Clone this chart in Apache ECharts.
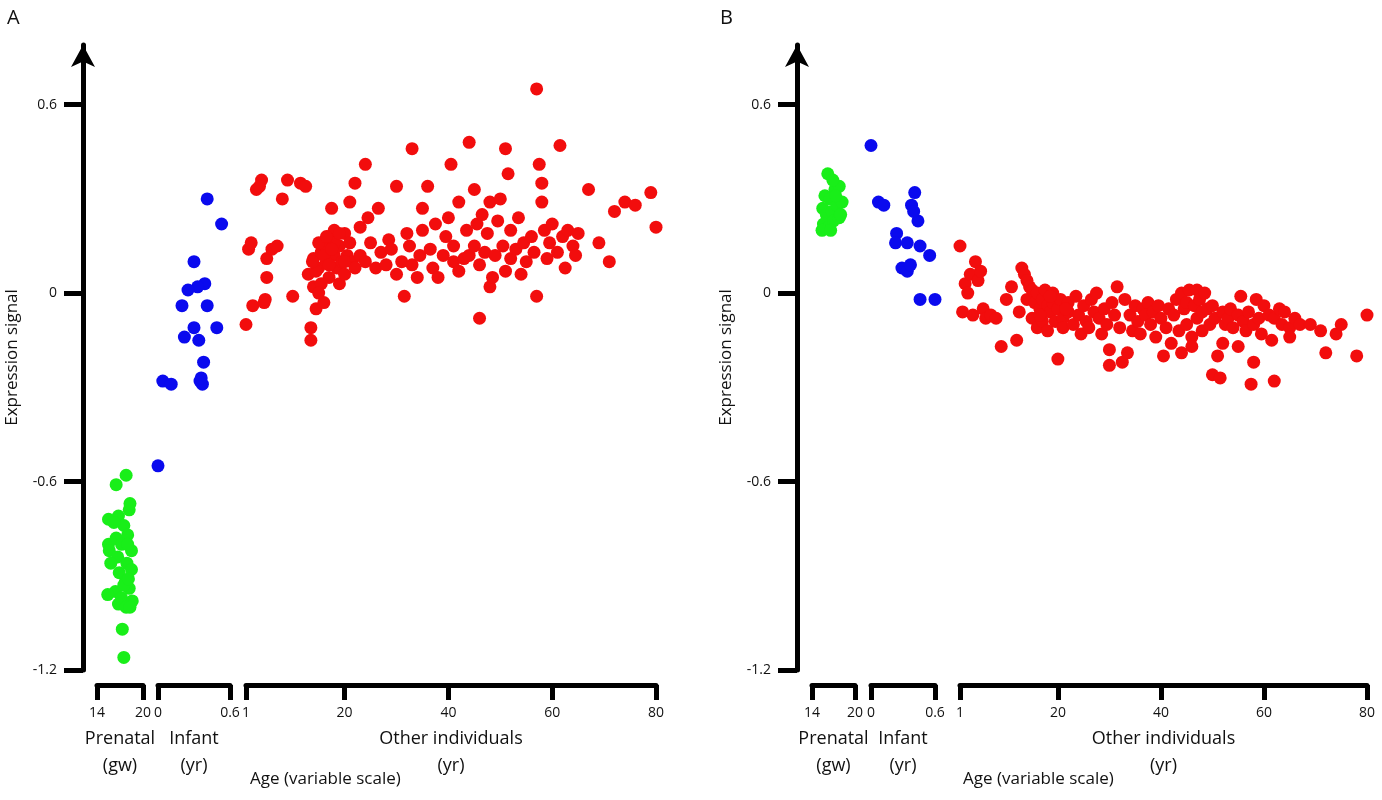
<!DOCTYPE html>
<html><head><meta charset="utf-8">
<script src="https://cdn.jsdelivr.net/npm/echarts@6/dist/echarts.min.js"></script>
<style>html,body{margin:0;padding:0;background:#fff}#c{width:1382px;height:800px}</style>
</head><body><div id="c"></div>
<script>
const yTicks = [-1.2, -0.6, 0, 0.6];
const prenatalTicks = [14, 20];
const infantTicks = [0, 0.6];
const otherTicks = [1, 20, 40, 60, 80];

const greenA = [[17.8,-0.58],[16.5,-0.61],[15.5,-0.72],[16.8,-0.71],[18.2,-0.69],[18.3,-0.67],[15.5,-0.80],[15.6,-0.82],[16.5,-0.78],[17.5,-0.74],[18,-0.77],[18.5,-0.82],[17.2,-0.80],[16.7,-0.84],[15.8,-0.86],[17.9,-0.86],[18.5,-0.88],[16.9,-0.89],[17.7,-0.92],[18.2,-0.94],[16.4,-0.95],[15.4,-0.96],[17.2,-0.97],[18.6,-0.98],[16.8,-0.99],[17.8,-1.0],[18.3,-1.0],[17.5,-0.93],[18.1,-0.91],[17.3,-1.07],[17.5,-1.16],[16.2,-0.73],[18.0,-0.80]];
const blueA = [[0,-0.55],[0.04,-0.28],[0.11,-0.29],[0.35,-0.28],[0.37,-0.29],[0.36,-0.27],[0.38,-0.22],[0.41,-0.04],[0.39,0.03],[0.33,0.02],[0.25,0.01],[0.2,-0.04],[0.3,0.1],[0.3,-0.11],[0.22,-0.14],[0.34,-0.15],[0.49,-0.11],[0.41,0.30],[0.53,0.22]];
const redA = [[1,-0.1],[1.5,0.14],[2,0.16],[2.3,-0.04],[3,0.33],[4,0.36],[3.6,0.34],[5,0.11],[5,0.05],[4.5,-0.03],[4.7,-0.02],[6,0.14],[7,0.15],[9,0.36],[8,0.3],[10,-0.01],[11.5,0.35],[12.5,0.34],[13,0.06],[13.5,-0.11],[13.5,-0.15],[14,0.02],[14,0.11],[14.5,-0.05],[15,0.08],[15.5,0.13],[16,-0.03],[16,0.15],[16.5,0.1],[17,0.05],[17,0.18],[17.5,0.27],[18,0.2],[18,0.12],[18.5,0.08],[19,0.15],[19,0.03],[19.5,0.1],[20,0.19],[20,0.06],[20.5,0.12],[21,0.29],[21,0.16],[21.5,0.1],[22,0.35],[22,0.08],[23,0.12],[23,0.21],[24,0.41],[24,0.1],[24.5,0.24],[25,0.16],[26,0.08],[26.5,0.27],[27,0.13],[28,0.09],[28.5,0.17],[29,0.14],[30,0.34],[30,0.06],[31,0.1],[31.5,-0.01],[32,0.19],[32.5,0.15],[33,0.46],[33,0.09],[34,0.05],[34.5,0.12],[35,0.27],[35,0.2],[36,0.34],[36.5,0.14],[37,0.08],[37.5,0.22],[38,0.05],[39,0.12],[39.5,0.18],[40,0.24],[40.5,0.41],[41,0.1],[41,0.15],[42,0.29],[42,0.07],[43,0.11],[43.5,0.2],[44,0.48],[44,0.12],[45,0.15],[45,0.33],[45.5,0.22],[46,-0.08],[46,0.09],[46.5,0.25],[47,0.13],[47.5,0.19],[48,0.02],[48,0.29],[48.5,0.05],[49,0.12],[49.5,0.23],[50,0.3],[50.5,0.15],[51,0.46],[51,0.07],[51.5,0.38],[52,0.2],[52,0.11],[53,0.14],[53.5,0.24],[54,0.06],[54.5,0.16],[55,0.1],[56,0.18],[56.5,0.13],[57,0.65],[57,-0.01],[57.5,0.41],[58,0.29],[58,0.35],[58.5,0.2],[59,0.11],[59.5,0.16],[60,0.22],[61,0.13],[61.5,0.47],[62,0.18],[62.5,0.08],[63,0.2],[64,0.15],[64.5,0.12],[65,0.19],[67,0.33],[69,0.16],[71,0.1],[72,0.26],[74,0.29],[76,0.28],[79,0.32],[80,0.21],[15,0.16],[16,0.12],[17,0.09],[18,0.16],[19,0.19],[20,0.1],[14.5,0.07],[15.5,0.03],[16.5,0.18],[17.5,0.14],[13.8,0.1],[15,0.0]];

const greenB = [[16.2,0.38],[15.8,0.31],[16.5,0.30],[17.2,0.33],[17.8,0.34],[15.5,0.27],[16.0,0.25],[16.8,0.26],[17.5,0.28],[18.2,0.29],[15.6,0.22],[16.3,0.21],[17.0,0.23],[17.8,0.24],[15.4,0.20],[16.6,0.20],[18.0,0.25],[17.3,0.31],[16.9,0.36]];
const blueB = [[0,0.47],[0.07,0.29],[0.12,0.28],[0.24,0.19],[0.23,0.16],[0.29,0.08],[0.34,0.07],[0.34,0.16],[0.37,0.09],[0.38,0.28],[0.41,0.32],[0.44,0.23],[0.46,0.15],[0.46,-0.02],[0.55,0.12],[0.6,-0.02],[0.40,0.26]];
const redB = [[1,0.15],[1.5,-0.06],[2,0.03],[2.5,0.0],[3,0.06],[3.5,-0.07],[4,0.1],[4.5,0.04],[5,0.07],[5.5,-0.05],[6,-0.08],[7,-0.07],[8,-0.08],[9,-0.17],[11,0.02],[12,-0.15],[12.5,-0.06],[13,0.08],[13.5,0.06],[14,0.04],[14,-0.02],[14.5,0.02],[15,-0.08],[15,0.01],[15.5,-0.03],[16,-0.11],[16,0.0],[16.5,-0.05],[17,-0.02],[17,-0.09],[17.5,0.01],[18,-0.04],[18,-0.12],[18.5,-0.06],[19,0.0],[19,-0.03],[19.5,-0.09],[20,-0.05],[20,-0.21],[20.5,-0.02],[21,-0.08],[21,-0.11],[22,-0.03],[22,-0.06],[23,-0.1],[23.5,-0.01],[24,-0.07],[24.5,-0.13],[25,-0.04],[25.5,-0.09],[26,-0.11],[26.5,-0.02],[27,-0.06],[27.5,0.0],[28,-0.08],[28.5,-0.13],[29,-0.05],[29.5,-0.1],[30,-0.18],[30,-0.23],[30.5,-0.03],[31,-0.07],[31.5,0.02],[32,-0.11],[32.5,-0.22],[33,-0.02],[33.5,-0.19],[34,-0.07],[34.5,-0.12],[35,-0.04],[35.5,-0.09],[36,-0.13],[36.5,-0.05],[37,-0.07],[37.5,-0.03],[38,-0.1],[38.5,-0.06],[39,-0.14],[39.5,-0.04],[40,-0.08],[40.5,-0.2],[41,-0.11],[41.5,-0.05],[42,-0.16],[42.5,-0.07],[43,-0.02],[43.5,-0.12],[44,0.0],[44,-0.19],[44.5,-0.05],[45,-0.03],[45,-0.1],[45.5,0.01],[46,-0.14],[46,-0.17],[46.5,-0.04],[47,0.01],[47,-0.08],[47.5,-0.02],[48,-0.06],[48,-0.12],[48.5,0.0],[49,-0.05],[49.5,-0.1],[50,-0.26],[50,-0.04],[50.5,-0.08],[51,-0.2],[51.5,-0.27],[52,-0.06],[52,-0.16],[52.5,-0.1],[53,-0.08],[53.5,-0.05],[54,-0.11],[55,-0.17],[55,-0.07],[55.5,-0.01],[56,-0.09],[56.5,-0.12],[57,-0.06],[57.5,-0.29],[58,-0.22],[58,-0.1],[58.5,-0.02],[59,-0.08],[59.5,-0.13],[60,-0.04],[61,-0.07],[61.5,-0.15],[62,-0.28],[62,-0.08],[63,-0.05],[63.5,-0.1],[64,-0.06],[65,-0.11],[65,-0.14],[66,-0.08],[67,-0.1],[69,-0.1],[71,-0.12],[72,-0.19],[74,-0.13],[75,-0.1],[78,-0.2],[80,-0.07],[10,-0.02],[16.5,-0.07],[18.5,-0.01],[21.5,-0.05]];

const FONT = '"Open Sans", "Noto Sans", sans-serif';
const YMIN = -1.2, YMAX = 0.79;
const GREEN = '#19ee19', BLUE = '#0a0aee', RED = '#f20d0d';

function seg(left, width, min, max, ticks, name, showY) {
  return {left, width, min, max, ticks, name, showY};
}
const panels = [
  {yx: 83, segs: [seg(97,46,14,20,prenatalTicks,'Prenatal\n(gw)',true), seg(158,72,0,0.6,infantTicks,'Infant\n(yr)'), seg(246,410,1,80,otherTicks,'Other individuals\n(yr)')], data: [greenA, blueA, redA]},
  {yx: 797, segs: [seg(812,43,14,20,prenatalTicks,'Prenatal\n(gw)',true), seg(871,64,0,0.6,infantTicks,'Infant\n(yr)'), seg(960,407,1,80,otherTicks,'Other individuals\n(yr)')], data: [greenB, blueB, redB]}
];
const colors = [GREEN, BLUE, RED];
const grid = [], xAxis = [], yAxis = [], series = [];
panels.forEach(p => {
  p.segs.forEach((s, i) => {
    const gi = grid.length;
    grid.push({left: s.left, width: s.width, top: 45, bottom: 130, containLabel: false});
    xAxis.push({
      type: 'value', gridIndex: gi, min: s.min, max: s.max, offset: 15,
      name: s.name, nameLocation: 'middle', nameGap: 40,
      nameTextStyle: {fontFamily: FONT, fontSize: 18, color: '#111', lineHeight: 27, verticalAlign: 'top', padding: [0,0,0,0]},
      axisLine: {show: true, onZero: false, lineStyle: {color: '#000', width: 5}},
      axisTick: {show: true, customValues: s.ticks, length: 15, lineStyle: {color: '#000', width: 5}},
      axisLabel: {customValues: s.ticks, showMinLabel: true, showMaxLabel: true, fontFamily: FONT, fontSize: 14, color: '#111', margin: 21},
      splitLine: {show: false}
    });
    yAxis.push({
      type: 'value', gridIndex: gi, min: YMIN, max: YMAX, show: !!s.showY,
      offset: s.showY ? (s.left - p.yx) : 0,
      name: 'Expression signal', nameLocation: 'middle', nameGap: 62, nameRotate: 90,
      nameTextStyle: {fontFamily: FONT, fontSize: 17, color: '#111'},
      axisLine: {show: true, symbol: ['none', 'arrow'], symbolSize: [18, 22], lineStyle: {color: '#000', width: 5}},
      axisTick: {show: true, customValues: yTicks, length: 19, lineStyle: {color: '#000', width: 5}},
      axisLabel: {customValues: yTicks, showMinLabel: true, showMaxLabel: true, fontFamily: FONT, fontSize: 14, color: '#111', margin: 26},
      splitLine: {show: false}
    });
    series.push({type: 'scatter', xAxisIndex: gi, yAxisIndex: gi, data: p.data[i], symbolSize: 13, clip: false, itemStyle: {color: colors[i], opacity: 1}});
  });
});
const chart = echarts.init(document.getElementById('c'));
chart.setOption({
  animation: false,
  grid, xAxis, yAxis, series,
  graphic: [
    {type: 'text', left: 7, top: 8, style: {text: 'A', fontFamily: FONT, fontSize: 20, fill: '#111'}},
    {type: 'text', left: 720, top: 8, style: {text: 'B', fontFamily: FONT, fontSize: 20, fill: '#111'}},
    {type: 'text', left: 250, top: 771, style: {text: 'Age (variable scale)', fontFamily: FONT, fontSize: 17, fill: '#111'}},
    {type: 'text', left: 963, top: 771, style: {text: 'Age (variable scale)', fontFamily: FONT, fontSize: 17, fill: '#111'}}
  ]
});
</script></body></html>
